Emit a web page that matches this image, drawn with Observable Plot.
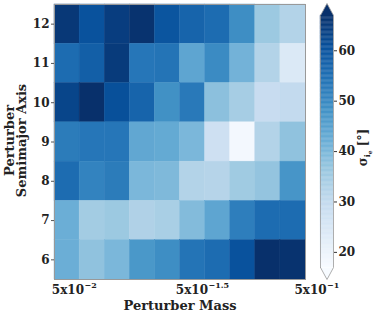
<!DOCTYPE html>
<html>
<head>
<meta charset="utf-8">
<script src="https://cdn.jsdelivr.net/npm/d3@7"></script>
<script src="https://cdn.jsdelivr.net/npm/@observablehq/plot@0.6"></script>
<style>
  html, body { margin: 0; padding: 0; background: #fff; }
  #wrap { position: relative; width: 374px; height: 316px; }
  #wrap svg { position: absolute; top: 0; }
</style>
</head>
<body>
<div id="wrap"></div>
<script>
// ---- data ----
const semimajor = [12, 11, 10, 9, 8, 7, 6];          // rows, top to bottom
const massIndex = [0, 1, 2, 3, 4, 5, 6, 7, 8, 9];      // 10 log-spaced masses 5e-2 .. 5e-1
const sigma = [
  [65.5, 60.5, 64.5, 66.5, 60, 57, 55.5, 49, 36, 32.5],   // a = 12
  [55.5, 58, 65, 53.5, 54, 44, 49.5, 41, 32.5, 24],       // a = 11
  [63, 67, 61, 57, 48.5, 53, 38, 34.5, 29, 30],           // a = 10
  [52.5, 53.5, 53.5, 43.5, 43, 40, 27.5, 18, 32.5, 37.5], // a = 9
  [55.5, 51, 52.5, 40, 39.5, 32.5, 32, 35.5, 37, 47.5],   // a = 8
  [42, 35, 36, 33, 34, 39, 44, 52, 55.5, 55.5],           // a = 7
  [42, 37.5, 40, 47, 49, 54, 55.5, 60.5, 67, 66.5]        // a = 6
];
const yTicks = [6, 7, 8, 9, 10, 11, 12];
const xTickPos = [1.175, 6.115, 10.84];
const xTickBase = ["5x10", "5x10", "5x10"];
const xTickExp = ["\u22122", "\u22121.5", "\u22121"];
const cbTicks = [20, 30, 40, 50, 60];
const vmin = 17, vmax = 67;

// ---- table ----
const cells = [];
semimajor.forEach((a, r) => massIndex.forEach((m, c) => cells.push({a, m, v: sigma[r][c]})));

const blues = d3.schemeBlues[9];
const stops = blues.map((_, i) => vmin + (vmax - vmin) * i / 8);
const colorOpts = {type: "linear", domain: stops, range: blues, interpolate: "rgb", clamp: true};
const color = d3.scaleLinear().domain(stops).range(blues).interpolate(d3.interpolateRgb).clamp(true);

const baseStyle = {fontFamily: "DejaVu Serif", fontWeight: "bold", fontSize: "12px", color: "#222", background: "transparent", overflow: "visible"};

const main = Plot.plot({
  width: 374, height: 316,
  marginLeft: 54, marginRight: 69, marginTop: 4, marginBottom: 37,
  style: baseStyle,
  x: {domain: [0, 10], axis: null},
  y: {domain: [5.5, 12.5], axis: null},
  color: colorOpts,
  marks: [
    Plot.rect(cells, {x1: "m", x2: d => d.m + 1, y1: d => d.a - 0.5, y2: d => d.a + 0.5, fill: "v", stroke: "v", strokeWidth: 0.4}),
    Plot.frame({stroke: "#999", strokeWidth: 1}),
    Plot.axisY({ticks: yTicks, tickFormat: d3.format("d"), tickSize: 3, tickPadding: 2, label: null, fontSize: 12, stroke: "#555"}),
    Plot.text(xTickPos, {x: d => d, text: (d, i) => xTickBase[i], frameAnchor: "bottom", textAnchor: "end", lineAnchor: "bottom", dy: 14, fontSize: 12, fill: "#222"}),
    Plot.text(xTickPos, {x: d => d, text: (d, i) => xTickExp[i], frameAnchor: "bottom", textAnchor: "start", lineAnchor: "bottom", dy: 8.5, dx: 0.5, fontSize: 8, fill: "#222"}),
    Plot.text(["Perturber Mass"], {frameAnchor: "bottom", text: d => d, textAnchor: "middle", lineAnchor: "bottom", dy: 30, fontSize: 13, fill: "#222"}),
    Plot.text(["Perturber\nSemimajor Axis"], {frameAnchor: "left", text: d => d, textAnchor: "middle", rotate: -90, dx: -38, dy: -1.5, lineHeight: 0.92, fontSize: 13, fill: "#222"})
  ]
});
main.style.left = "0px";

// ---- colorbar ----
const step = 0.25;
const ramp = d3.range(vmin, vmax, step).map(v => ({v0: v, v1: Math.min(v + step, vmax)}));
const ext = 12 / (252 / (vmax - vmin));
const topTri = [{x: 0, y: vmax}, {x: 0.5, y: vmax + ext}, {x: 1, y: vmax}];
const botTri = [{x: 0, y: vmin}, {x: 0.5, y: vmin - ext}, {x: 1, y: vmin}];
const outline = [{x: 0, y: vmin}, {x: 0, y: vmax}, {x: 0.5, y: vmax + ext}, {x: 1, y: vmax}, {x: 1, y: vmin}, {x: 0.5, y: vmin - ext}, {x: 0, y: vmin}];

const cb = Plot.plot({
  width: 74, height: 316,
  marginLeft: 20, marginRight: 41, marginTop: 15, marginBottom: 49,
  style: baseStyle,
  x: {domain: [0, 1], axis: null},
  y: {domain: [vmin, vmax], axis: null},
  color: colorOpts,
  marks: [
    Plot.rect(ramp, {x1: 0, x2: 1, y1: "v0", y2: "v1", fill: d => (d.v0 + d.v1) / 2, stroke: d => (d.v0 + d.v1) / 2, strokeWidth: 0.3}),
    Plot.line(topTri, {x: "x", y: "y", fill: color(vmax), stroke: "none"}),
    Plot.line(botTri, {x: "x", y: "y", fill: color(vmin), stroke: "none"}),
    Plot.line(outline, {x: "x", y: "y", stroke: "#999", strokeWidth: 0.8}),
    Plot.axisY({anchor: "right", ticks: cbTicks, tickSize: 3, tickPadding: 2, label: null, fontSize: 12, stroke: "#333"}),
    Plot.text(["SIGMA_LABEL"], {frameAnchor: "right", text: d => d, textAnchor: "middle", rotate: -90, dx: 30, dy: 6, fontSize: 12, fill: "#222"})
  ]
});
cb.style.left = "300px";

// subscripted colorbar label
cb.querySelectorAll("text").forEach(t => {
  if (t.textContent === "SIGMA_LABEL") {
    t.textContent = "";
    const ns = "http://www.w3.org/2000/svg";
    const parts = [
      {s: "\u03c3", size: null, dy: 0},
      {s: "i", size: "8px", dy: "3"},
      {s: "e", size: "6px", dy: "2"},
      {s: " [\u00b0]", size: null, dy: "-5"}
    ];
    parts.forEach(p => {
      const ts = document.createElementNS(ns, "tspan");
      ts.textContent = p.s;
      if (p.size) ts.setAttribute("font-size", p.size);
      if (p.dy) ts.setAttribute("dy", p.dy);
      t.appendChild(ts);
    });
  }
});

const wrap = document.getElementById("wrap");
wrap.appendChild(main);
wrap.appendChild(cb);
</script>
</body>
</html>
